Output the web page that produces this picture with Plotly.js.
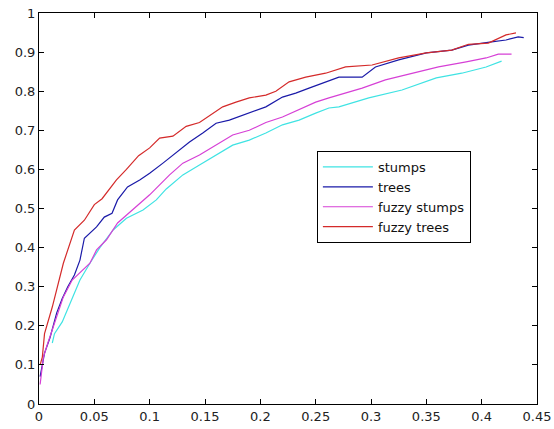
<!DOCTYPE html>
<html>
<head>
<meta charset="utf-8">
<script src="https://cdn.plot.ly/plotly-3.0.1.min.js"></script>
<style>html,body{margin:0;padding:0;background:#fff;}#chart{width:554px;height:429px;}</style>
</head>
<body>
<div id="chart"></div>
<script>
const seriesNames = ["stumps", "trees", "fuzzy stumps", "fuzzy trees"];

const stumpsX = [0.012, 0.014, 0.021, 0.028, 0.037, 0.046, 0.055, 0.067, 0.079, 0.094, 0.106, 0.115, 0.124, 0.13, 0.145, 0.16, 0.175, 0.19, 0.205, 0.22, 0.235, 0.25, 0.262, 0.271, 0.298, 0.328, 0.359, 0.382, 0.404, 0.418];
const stumpsY = [0.156, 0.18, 0.21, 0.258, 0.317, 0.36, 0.40, 0.445, 0.475, 0.496, 0.522, 0.55, 0.573, 0.586, 0.611, 0.637, 0.662, 0.675, 0.693, 0.714, 0.726, 0.744, 0.757, 0.76, 0.783, 0.803, 0.834, 0.846, 0.862, 0.877];

const treesX = [0.001, 0.005, 0.01, 0.016, 0.021, 0.026, 0.032, 0.037, 0.041, 0.046, 0.052, 0.059, 0.066, 0.071, 0.08, 0.091, 0.1, 0.112, 0.124, 0.136, 0.148, 0.16, 0.172, 0.184, 0.196, 0.205, 0.22, 0.232, 0.244, 0.259, 0.271, 0.292, 0.304, 0.325, 0.35, 0.373, 0.388, 0.409, 0.422, 0.433, 0.438];
const treesY = [0.07, 0.13, 0.17, 0.233, 0.27, 0.30, 0.33, 0.368, 0.424, 0.437, 0.453, 0.478, 0.488, 0.522, 0.555, 0.573, 0.59, 0.616, 0.642, 0.67, 0.693, 0.718, 0.726, 0.739, 0.752, 0.76, 0.785, 0.795, 0.808, 0.824, 0.836, 0.836, 0.862, 0.88, 0.898, 0.905, 0.918, 0.926, 0.931, 0.939, 0.937];

const fuzzyStumpsX = [0.001, 0.004, 0.008, 0.016, 0.022, 0.03, 0.037, 0.046, 0.052, 0.061, 0.071, 0.082, 0.091, 0.1, 0.118, 0.13, 0.145, 0.16, 0.175, 0.19, 0.205, 0.22, 0.235, 0.25, 0.262, 0.271, 0.292, 0.313, 0.337, 0.361, 0.386, 0.404, 0.415, 0.427];
const fuzzyStumpsY = [0.05, 0.12, 0.156, 0.223, 0.274, 0.317, 0.335, 0.36, 0.394, 0.42, 0.463, 0.49, 0.513, 0.535, 0.586, 0.616, 0.637, 0.662, 0.688, 0.70, 0.72, 0.734, 0.752, 0.772, 0.783, 0.79, 0.808, 0.829, 0.846, 0.862, 0.875, 0.885, 0.895, 0.895];

const fuzzyTreesX = [0.001, 0.003, 0.005, 0.012, 0.022, 0.032, 0.041, 0.05, 0.057, 0.07, 0.079, 0.09, 0.1, 0.109, 0.121, 0.133, 0.145, 0.157, 0.166, 0.178, 0.19, 0.205, 0.214, 0.226, 0.241, 0.259, 0.277, 0.301, 0.325, 0.35, 0.373, 0.388, 0.406, 0.422, 0.431];
const fuzzyTreesY = [0.10, 0.12, 0.18, 0.248, 0.36, 0.445, 0.47, 0.51, 0.525, 0.573, 0.60, 0.635, 0.655, 0.68, 0.685, 0.71, 0.72, 0.744, 0.76, 0.772, 0.783, 0.79, 0.80, 0.824, 0.836, 0.846, 0.862, 0.867, 0.885, 0.898, 0.905, 0.92, 0.923, 0.944, 0.949];

const xTickVals = [0, 0.05, 0.1, 0.15, 0.2, 0.25, 0.3, 0.35, 0.4, 0.45];
const xTickText = ["0", "0.05", "0.1", "0.15", "0.2", "0.25", "0.3", "0.35", "0.4", "0.45"];
const yTickVals = [0, 0.1, 0.2, 0.3, 0.4, 0.5, 0.6, 0.7, 0.8, 0.9, 1];
const yTickText = ["0", "0.1", "0.2", "0.3", "0.4", "0.5", "0.6", "0.7", "0.8", "0.9", "1"];

const colors = ["#3fe3e3", "#1a1aa8", "#d640d6", "#d42a2a"];
const xs = [stumpsX, treesX, fuzzyStumpsX, fuzzyTreesX];
const ys = [stumpsY, treesY, fuzzyStumpsY, fuzzyTreesY];

const traces = seriesNames.map((n, i) => ({
  x: xs[i], y: ys[i], name: n, type: "scatter", mode: "lines",
  line: {color: colors[i], width: 1.2}
}));

const fontFam = "DejaVu Sans, Verdana, sans-serif";

const axisCommon = {
  showline: true, linecolor: "#000", linewidth: 1, mirror: "ticks",
  ticks: "inside", ticklen: 5, tickcolor: "#000", showgrid: false, zeroline: false,
  tickfont: {family: fontFam, size: 13, color: "#222"},
  tickmode: "array"
};

const layout = {
  width: 554, height: 429,
  margin: {l: 39, r: 17, t: 13, b: 25},
  paper_bgcolor: "#fff", plot_bgcolor: "#fff",
  showlegend: true,
  xaxis: Object.assign({}, axisCommon, {range: [0, 0.45], tickvals: xTickVals, ticktext: xTickText}),
  yaxis: Object.assign({}, axisCommon, {range: [0, 1], tickvals: yTickVals, ticktext: yTickText}),
  legend: {
    x: 0.558, y: 0.647, xanchor: "left", yanchor: "top",
    bordercolor: "#000", borderwidth: 1, bgcolor: "#fff",
    font: {family: fontFam, size: 13, color: "#111"},
    itemwidth: 50,
    tracegroupgap: 0
  }
};

Plotly.newPlot("chart", traces, layout, {displayModeBar: false, staticPlot: true});
</script>
</body>
</html>
